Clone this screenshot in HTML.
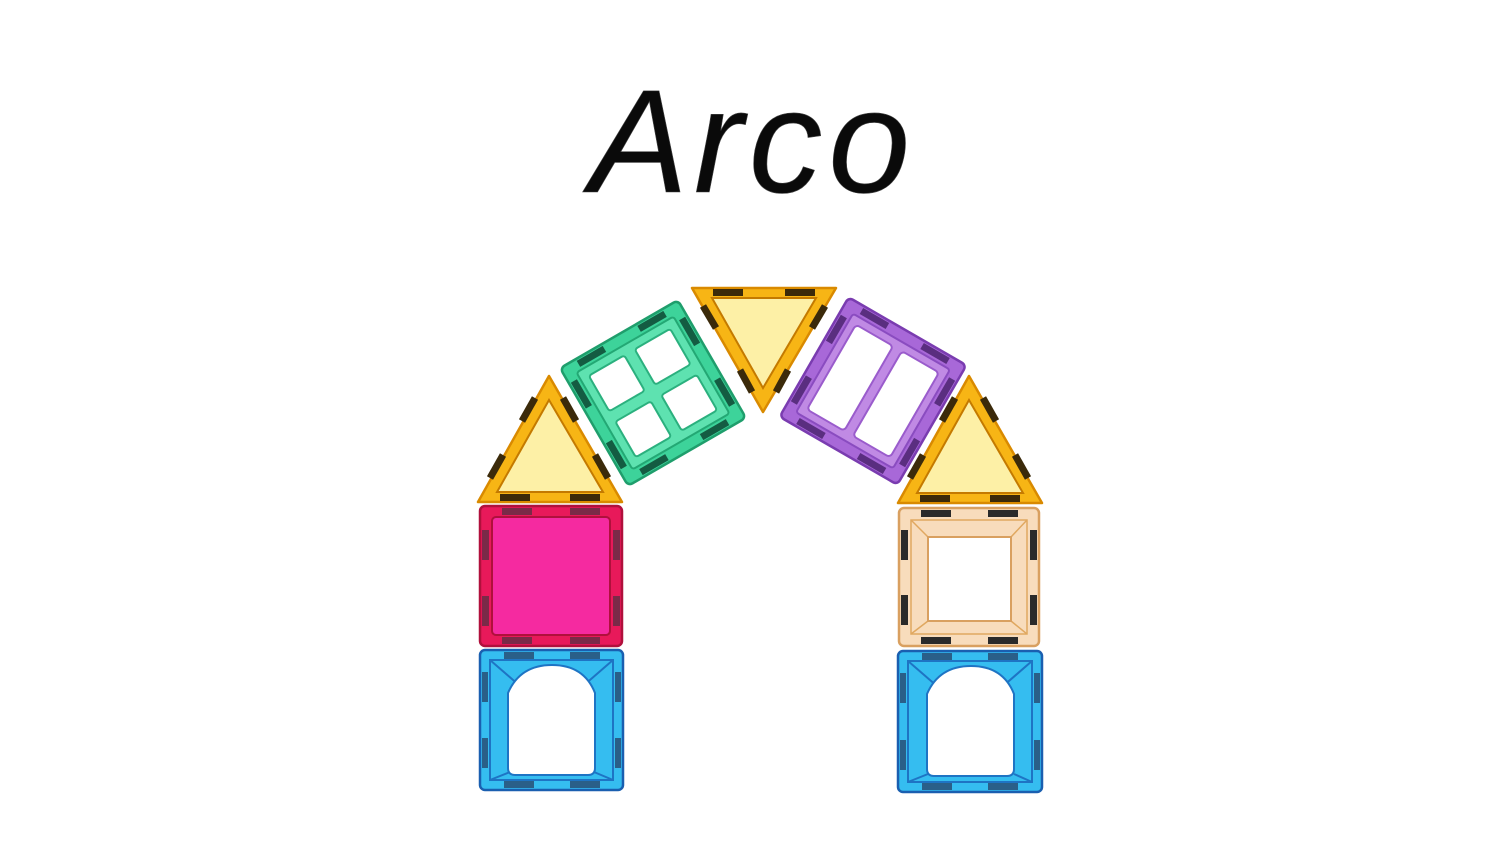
<!DOCTYPE html>
<html><head><meta charset="utf-8"><style>
html,body{margin:0;padding:0;background:#fff;width:1500px;height:844px;overflow:hidden}
svg{display:block}
</style></head><body>
<svg width="1500" height="844" viewBox="0 0 1500 844">
<text x="753" y="192" text-anchor="middle" font-family="Liberation Sans, sans-serif" font-style="italic" font-size="147" letter-spacing="6" fill="#0a0a0a" stroke="#444" stroke-width="0.6">Arco</text>

<!-- left blue tile -->
<g>
<rect x="480" y="650" width="143" height="140" rx="5" fill="#35bdf0" stroke="#1a5fb0" stroke-width="2.5"/>
<rect x="490" y="660" width="123" height="120" fill="none" stroke="#1e74c4" stroke-width="2"/>
<path d="M490 660 L520 686 M613 660 L583 686 M490 780 L510 772 M613 780 L594 772" stroke="#1e74c4" stroke-width="2"/>
<path d="M508 693 Q520 665 552 665 Q584 665 595 693 L595 768 Q595 775 588 775 L515 775 Q508 775 508 768 Z" fill="#fff" stroke="#1e74c4" stroke-width="2"/>
<rect x="504" y="652" width="30" height="7" fill="#2a5f88"/><rect x="570" y="652" width="30" height="7" fill="#2a5f88"/>
<rect x="504" y="781" width="30" height="7" fill="#2a5f88"/><rect x="570" y="781" width="30" height="7" fill="#2a5f88"/>
<rect x="482" y="672" width="6" height="30" fill="#2a5f88"/><rect x="482" y="738" width="6" height="30" fill="#2a5f88"/>
<rect x="615" y="672" width="6" height="30" fill="#2a5f88"/><rect x="615" y="738" width="6" height="30" fill="#2a5f88"/>
</g>

<!-- pink tile -->
<g>
<rect x="480" y="506" width="142" height="140" rx="5" fill="#e8195a" stroke="#b0103c" stroke-width="2.5"/>
<rect x="492" y="517" width="118" height="118" rx="4" fill="#f52aa0" stroke="#b0103c" stroke-width="2"/>
<rect x="502" y="508" width="30" height="7" fill="#7a2a48"/><rect x="570" y="508" width="30" height="7" fill="#7a2a48"/>
<rect x="502" y="637" width="30" height="7" fill="#7a2a48"/><rect x="570" y="637" width="30" height="7" fill="#7a2a48"/>
<rect x="482" y="530" width="7" height="30" fill="#7a2a48"/><rect x="482" y="596" width="7" height="30" fill="#7a2a48"/>
<rect x="613" y="530" width="7" height="30" fill="#7a2a48"/><rect x="613" y="596" width="7" height="30" fill="#7a2a48"/>
</g>

<!-- left yellow triangle -->
<g>
<polygon points="549,376 478,502 622,502" fill="#f7b515" stroke="#d98a00" stroke-width="2.5" stroke-linejoin="round"/>
<polygon points="549,400 497,492 603,492" fill="#fdf0a6" stroke="#c47a00" stroke-width="2"/>
<rect x="500" y="494" width="30" height="7" fill="#3b2a0a"/><rect x="570" y="494" width="30" height="7" fill="#3b2a0a"/>
<line x1="535" y1="398" x2="522" y2="421" stroke="#3b2a0a" stroke-width="7"/><line x1="503" y1="455" x2="490" y2="478" stroke="#3b2a0a" stroke-width="7"/>
<line x1="563" y1="398" x2="576" y2="421" stroke="#3b2a0a" stroke-width="7"/><line x1="595" y1="455" x2="608" y2="478" stroke="#3b2a0a" stroke-width="7"/>
</g>

<!-- green tile -->
<g transform="translate(653,393) rotate(-30)">
<rect x="-68" y="-68" width="136" height="136" rx="5" fill="#3dd39a" stroke="#1f9e6c" stroke-width="2.5"/>
<rect x="-56" y="-56" width="112" height="112" rx="3" fill="#5ee2b0" stroke="#23a874" stroke-width="2"/>
<rect x="-47" y="-47" width="41" height="41" rx="3" fill="#fff" stroke="#2bb07e" stroke-width="2"/>
<rect x="6" y="-47" width="41" height="41" rx="3" fill="#fff" stroke="#2bb07e" stroke-width="2"/>
<rect x="-47" y="6" width="41" height="41" rx="3" fill="#fff" stroke="#2bb07e" stroke-width="2"/>
<rect x="6" y="6" width="41" height="41" rx="3" fill="#fff" stroke="#2bb07e" stroke-width="2"/>
<rect x="-50" y="-66" width="30" height="7" fill="#145c42"/><rect x="20" y="-66" width="30" height="7" fill="#145c42"/>
<rect x="-50" y="59" width="30" height="7" fill="#145c42"/><rect x="20" y="59" width="30" height="7" fill="#145c42"/>
<rect x="-66" y="-50" width="7" height="30" fill="#145c42"/><rect x="-66" y="20" width="7" height="30" fill="#145c42"/>
<rect x="59" y="-50" width="7" height="30" fill="#145c42"/><rect x="59" y="20" width="7" height="30" fill="#145c42"/>
</g>

<!-- top inverted triangle -->
<g>
<polygon points="692,288 836,288 763,412" fill="#f7b515" stroke="#d98a00" stroke-width="2.5" stroke-linejoin="round"/>
<polygon points="712,298 816,298 763,388" fill="#fdf0a6" stroke="#c47a00" stroke-width="2"/>
<rect x="713" y="289" width="30" height="7" fill="#3b2a0a"/><rect x="785" y="289" width="30" height="7" fill="#3b2a0a"/>
<line x1="703" y1="306" x2="716" y2="328" stroke="#3b2a0a" stroke-width="7"/><line x1="740" y1="370" x2="752" y2="392" stroke="#3b2a0a" stroke-width="7"/>
<line x1="825" y1="306" x2="812" y2="328" stroke="#3b2a0a" stroke-width="7"/><line x1="788" y1="370" x2="776" y2="392" stroke="#3b2a0a" stroke-width="7"/>
</g>

<!-- purple tile -->
<g transform="translate(873,391) rotate(30)">
<rect x="-68" y="-69" width="136" height="138" rx="5" fill="#a868d8" stroke="#7a3cb0" stroke-width="2.5"/>
<rect x="-56" y="-57" width="112" height="114" rx="3" fill="#c08ae4" stroke="#8a4cc0" stroke-width="2"/>
<rect x="-48" y="-49" width="43" height="98" rx="4" fill="#fff" stroke="#9a5ccc" stroke-width="2"/>
<rect x="5" y="-49" width="43" height="98" rx="4" fill="#fff" stroke="#9a5ccc" stroke-width="2"/>
<rect x="-50" y="-67" width="30" height="7" fill="#5a2e80"/><rect x="20" y="-67" width="30" height="7" fill="#5a2e80"/>
<rect x="-50" y="60" width="30" height="7" fill="#5a2e80"/><rect x="20" y="60" width="30" height="7" fill="#5a2e80"/>
<rect x="-66" y="-50" width="7" height="30" fill="#5a2e80"/><rect x="-66" y="20" width="7" height="30" fill="#5a2e80"/>
<rect x="59" y="-50" width="7" height="30" fill="#5a2e80"/><rect x="59" y="20" width="7" height="30" fill="#5a2e80"/>
</g>

<!-- right yellow triangle -->
<g>
<polygon points="969,376 898,503 1042,503" fill="#f7b515" stroke="#d98a00" stroke-width="2.5" stroke-linejoin="round"/>
<polygon points="969,400 917,493 1023,493" fill="#fdf0a6" stroke="#c47a00" stroke-width="2"/>
<rect x="920" y="495" width="30" height="7" fill="#3b2a0a"/><rect x="990" y="495" width="30" height="7" fill="#3b2a0a"/>
<line x1="955" y1="398" x2="942" y2="421" stroke="#3b2a0a" stroke-width="7"/><line x1="923" y1="455" x2="910" y2="478" stroke="#3b2a0a" stroke-width="7"/>
<line x1="983" y1="398" x2="996" y2="421" stroke="#3b2a0a" stroke-width="7"/><line x1="1015" y1="455" x2="1028" y2="478" stroke="#3b2a0a" stroke-width="7"/>
</g>

<!-- beige tile -->
<g>
<rect x="899" y="508" width="140" height="138" rx="5" fill="#f8dcbc" stroke="#d9a060" stroke-width="2.5"/>
<rect x="911" y="520" width="116" height="114" fill="none" stroke="#e0a860" stroke-width="1.5"/>
<path d="M911 520 L928 537 M1027 520 L1011 537 M911 634 L928 621 M1027 634 L1011 621" stroke="#e0a860" stroke-width="1.5"/>
<rect x="928" y="537" width="83" height="84" fill="#fff" stroke="#d9a060" stroke-width="2"/>
<rect x="921" y="510" width="30" height="7" fill="#2a2a2a"/><rect x="988" y="510" width="30" height="7" fill="#2a2a2a"/>
<rect x="921" y="637" width="30" height="7" fill="#2a2a2a"/><rect x="988" y="637" width="30" height="7" fill="#2a2a2a"/>
<rect x="901" y="530" width="7" height="30" fill="#2a2a2a"/><rect x="901" y="595" width="7" height="30" fill="#2a2a2a"/>
<rect x="1030" y="530" width="7" height="30" fill="#2a2a2a"/><rect x="1030" y="595" width="7" height="30" fill="#2a2a2a"/>
</g>

<!-- right blue tile -->
<g>
<rect x="898" y="651" width="144" height="141" rx="5" fill="#35bdf0" stroke="#1a5fb0" stroke-width="2.5"/>
<rect x="908" y="661" width="124" height="121" fill="none" stroke="#1e74c4" stroke-width="2"/>
<path d="M908 661 L938 687 M1032 661 L1002 687 M908 782 L928 774 M1032 782 L1014 774" stroke="#1e74c4" stroke-width="2"/>
<path d="M927 694 Q939 666 971 666 Q1003 666 1014 694 L1014 769 Q1014 776 1007 776 L934 776 Q927 776 927 769 Z" fill="#fff" stroke="#1e74c4" stroke-width="2"/>
<rect x="922" y="653" width="30" height="7" fill="#2a5f88"/><rect x="988" y="653" width="30" height="7" fill="#2a5f88"/>
<rect x="922" y="783" width="30" height="7" fill="#2a5f88"/><rect x="988" y="783" width="30" height="7" fill="#2a5f88"/>
<rect x="900" y="673" width="6" height="30" fill="#2a5f88"/><rect x="900" y="740" width="6" height="30" fill="#2a5f88"/>
<rect x="1034" y="673" width="6" height="30" fill="#2a5f88"/><rect x="1034" y="740" width="6" height="30" fill="#2a5f88"/>
</g>
</svg>
</body></html>
